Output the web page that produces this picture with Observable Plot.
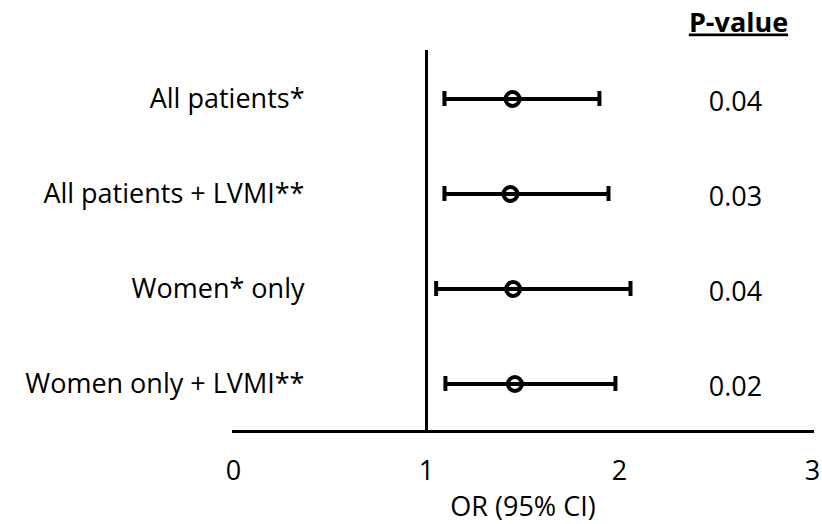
<!DOCTYPE html>
<html>
<head>
<meta charset="utf-8">
<script src="https://cdn.jsdelivr.net/npm/d3@7"></script>
<script src="https://cdn.jsdelivr.net/npm/@observablehq/plot@0.6"></script>
<style>
  html, body { margin: 0; padding: 0; background: #fff; }
  #chart { width: 822px; height: 524px; }
</style>
</head>
<body>
<div id="chart"></div>
<script>
const labels = ["All patients*", "All patients + LVMI**", "Women* only", "Women only + LVMI**"];
const oddsRatio = [1.446, 1.435, 1.449, 1.458];
const ciLow = [1.093, 1.093, 1.050, 1.098];
const ciHigh = [1.896, 1.943, 2.057, 1.979];
const pValues = ["0.04", "0.03", "0.04", "0.02"];
const xTicks = [0, 1, 2, 3];
const pHeader = "P-value";
const xLabel = "OR (95% CI)";

const rows = labels.map((label, i) => ({
  label, or: oddsRatio[i], lo: ciLow[i], hi: ciHigh[i], p: pValues[i]
}));

const font = "'Open Sans', sans-serif";
const fs = 27;

const chart = Plot.plot({
  width: 822,
  height: 524,
  marginLeft: 233,
  marginRight: 10,
  marginTop: 50,
  marginBottom: 93,
  style: { fontFamily: font, fontSize: fs + "px", color: "#000", background: "#fff", overflow: "visible" },
  x: { domain: [0, 3] },
  y: { type: "band", domain: labels, padding: 0 },
  marks: [
    Plot.axisY({ tickSize: 0, tickPadding: 3, dx: 74, fontSize: fs, label: null, textAnchor: "end" }),
    Plot.axisX({ ticks: xTicks, tickFormat: d => String(d), tickSize: 0, tickPadding: 29, fontSize: fs, label: xLabel,
      labelAnchor: "center", labelArrow: "none", labelOffset: 84 }),
    Plot.ruleX([1], { stroke: "#000", strokeWidth: 3 }),
    Plot.frame({ anchor: "bottom", stroke: "#000", strokeWidth: 3 }),
    Plot.ruleY(rows, { y: "label", x1: "lo", x2: "hi", stroke: "#000", strokeWidth: 4 }),
    Plot.tickX(rows, { x: "lo", y: "label", stroke: "#000", strokeWidth: 4, insetTop: 40, insetBottom: 40 }),
    Plot.tickX(rows, { x: "hi", y: "label", stroke: "#000", strokeWidth: 4, insetTop: 40, insetBottom: 40 }),
    Plot.dot(rows, { x: "or", y: "label", r: 7, stroke: "#000", strokeWidth: 4, fill: "none" }),
    Plot.text(rows, { y: "label", text: "p", frameAnchor: "right", textAnchor: "middle", dx: -77, dy: 3, fontSize: fs, fill: "#000" }),
    Plot.text([pHeader], { text: d => d, frameAnchor: "top-right", textAnchor: "middle", lineAnchor: "bottom", dx: -74, dy: -19, fontSize: fs, fontWeight: "bold", fill: "#000", className: "pheader" })
  ]
});

d3.select(chart).selectAll(".pheader text").attr("text-decoration", "underline");
document.getElementById("chart").appendChild(chart);
</script>
</body>
</html>
